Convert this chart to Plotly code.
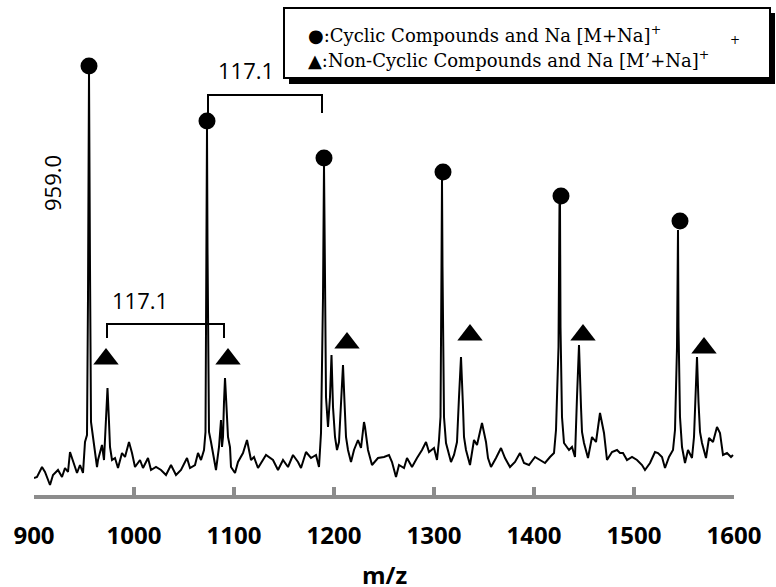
import plotly.graph_objects as go

# ---- spectrum data (m/z, relative intensity) ----
mz = [900, 903, 908, 911, 916, 919, 924, 928, 931, 934, 936, 939, 943, 946, 949, 951, 953, 954, 955, 956, 957, 959,
      963, 964, 968, 970, 971, 972, 973.5, 975, 976, 978, 981, 984, 988, 991, 995, 998, 1001, 1006, 1009, 1014,
      1017, 1022, 1027, 1032, 1037, 1042, 1047, 1053, 1056, 1061, 1064, 1067, 1070, 1071.5, 1072.5, 1073, 1073.5, 1075, 1077,
      1081, 1082, 1085, 1087, 1088, 1089, 1090, 1091, 1092, 1094, 1096, 1097, 1101, 1104, 1109, 1113, 1117, 1120,
      1124, 1131, 1132, 1139, 1144, 1149, 1154, 1159, 1164, 1167, 1172, 1177, 1182, 1185, 1187, 1189, 1190, 1191,
      1192, 1194, 1196, 1197.5, 1199, 1201, 1203, 1205, 1207, 1209, 1210.5, 1212, 1214, 1217, 1220, 1224, 1227,
      1230, 1231, 1234, 1238, 1244, 1250, 1255, 1258, 1262, 1265, 1270, 1273, 1278, 1283, 1288, 1292, 1295, 1300,
      1303, 1305, 1306.5, 1307.5, 1308, 1308.5, 1310, 1312, 1317, 1320, 1323, 1325, 1327, 1329, 1330, 1332, 1336, 1340,
      1343, 1348, 1352, 1354, 1357, 1362, 1367, 1371, 1376, 1381, 1386, 1390, 1395, 1401, 1406, 1411, 1416, 1420,
      1422, 1424.5, 1425.5, 1426, 1426.5, 1428, 1430, 1435, 1438, 1441, 1443, 1445, 1447, 1448, 1450, 1454, 1458, 1462, 1466,
      1470, 1473, 1478, 1483, 1486, 1489, 1493, 1498, 1503, 1508, 1511, 1516, 1521, 1524, 1528, 1531, 1535, 1539,
      1541, 1543, 1544, 1544.5, 1546, 1548, 1551, 1554, 1558, 1560, 1561.5, 1563, 1564.5, 1566, 1568, 1572, 1575,
      1579, 1583, 1586, 1589, 1593, 1597, 1599]
intensity = [19, 20, 30, 25, 12, 22, 27, 20, 29, 25, 45, 35, 24, 32, 24, 55, 62, 200, 425, 230, 75, 60,
             30, 37, 52, 37, 55, 85, 109, 75, 50, 37, 39, 29, 44, 40, 55, 44, 30, 37, 29, 39,
             27, 30, 27, 22, 32, 22, 27, 39, 29, 32, 44, 37, 47, 65, 250, 369, 250, 65, 55,
             32, 27, 50, 77, 50, 60, 95, 119, 100, 60, 50, 30, 24, 35, 44, 57, 37, 40,
             29, 40, 42, 37, 27, 37, 30, 42, 35, 29, 45, 39, 42, 30, 64, 200, 332, 220,
             100, 70, 100, 142, 90, 60, 47, 55, 100, 132, 95, 60, 47, 35, 47, 57, 49,
             75, 70, 47, 32, 39, 40, 42, 35, 20, 32, 29, 39, 30, 39, 47, 55, 45, 49,
             37, 57, 80, 230, 317, 230, 80, 54, 35, 42, 55, 100, 140, 90, 60, 47, 32, 57,
             52, 74, 55, 39, 30, 39, 49, 39, 30, 35, 44, 34, 32, 40, 37, 34, 40, 44,
             67, 150, 292, 292, 170, 80, 54, 47, 50, 40, 100, 152, 90, 65, 54, 39, 60, 55, 84,
             64, 37, 45, 47, 44, 44, 37, 40, 37, 32, 27, 34, 45, 44, 40, 29, 40, 47,
             67, 150, 267, 170, 80, 50, 34, 47, 39, 60, 100, 140, 95, 65, 54, 39, 59,
             55, 70, 64, 42, 44, 40, 42]

# ---- peak markers ----
cyclic_mz = [955, 1073, 1190, 1309, 1427, 1546]
cyclic_y = [431, 376, 339, 325, 301, 276]
noncyclic_mz = [972, 1094, 1213, 1336, 1449, 1570]
noncyclic_y = [138, 138, 154, 162, 162, 149]

# ---- brackets (x1, x2, y_top, y_bottom) ----
brackets = [(1074, 1188, 402, 384), (973, 1090, 173, 159)]
bracket_labels = ["117.1", "117.1"]
bracket_label_pos = [(1112, 427), (1006, 197)]
peak_label = "959.0"
peak_label_pos = (918, 314)

tick_vals = [900, 1000, 1100, 1200, 1300, 1400, 1500, 1600]
tick_text = [str(v) for v in tick_vals]

legend_lines = ["●:Cyclic Compounds and Na [M+Na]<sup>+</sup>",
                "▲:Non-Cyclic Compounds and Na [M’+Na]<sup>+</sup>"]

fig = go.Figure()
fig.add_trace(go.Scatter(x=mz, y=intensity, mode="lines",
                         line=dict(color="black", width=2), hoverinfo="skip", showlegend=False))
fig.add_trace(go.Scatter(x=cyclic_mz, y=cyclic_y, mode="markers",
                         marker=dict(symbol="circle", size=17, color="black"), showlegend=False))
fig.add_trace(go.Scatter(x=noncyclic_mz, y=noncyclic_y, mode="markers",
                         marker=dict(symbol="triangle-up", size=22, color="black"), showlegend=False))

shapes = []
for (x1, x2, yt, yb) in brackets:
    shapes.append(dict(type="path", xref="x", yref="y",
                       path=f"M {x1},{yb} L {x1},{yt} L {x2},{yt} L {x2},{yb}",
                       line=dict(color="black", width=2)))

# legend box with shadow (paper coords)
W, L = 700.0, 34.0
H, B = 495.0, 495.0
def px(x):
    return (x - L) / W
def py(y):
    return (B - y) / H
shapes.append(dict(type="rect", xref="paper", yref="paper",
                   x0=px(289), x1=px(775), y0=py(84), y1=py(13),
                   fillcolor="black", line=dict(width=0), layer="above"))
shapes.append(dict(type="rect", xref="paper", yref="paper",
                   x0=px(284), x1=px(770), y0=py(78), y1=py(8),
                   fillcolor="white", line=dict(color="black", width=2), layer="above"))

annotations = []
for t, (x, y) in zip(bracket_labels, bracket_label_pos):
    annotations.append(dict(x=x, y=y, xref="x", yref="y", text=t, showarrow=False,
                            font=dict(family="Open Sans", size=22, color="black")))
annotations.append(dict(x=peak_label_pos[0], y=peak_label_pos[1], xref="x", yref="y", text=peak_label,
                        textangle=-90, showarrow=False,
                        font=dict(family="Open Sans", size=22, color="black")))
for i, t in enumerate(legend_lines):
    annotations.append(dict(x=px(306), y=py(34 + 25 * i), xref="paper", yref="paper", text=t,
                            xanchor="left", yanchor="middle", showarrow=False,
                            font=dict(family="DejaVu Serif", size=18, color="black")))
annotations.append(dict(x=px(735), y=py(40), xref="paper", yref="paper", text="+",
                        xanchor="center", yanchor="middle", showarrow=False,
                        font=dict(family="DejaVu Serif", size=12, color="black")))
annotations.append(dict(x=px(384), y=py(574), xref="paper", yref="paper", text="<b>m/z</b>",
                        xanchor="center", yanchor="middle", showarrow=False,
                        font=dict(family="Open Sans", size=24, color="black")))

fig.update_layout(
    width=776, height=587,
    margin=dict(l=34, r=42, t=0, b=92, autoexpand=False),
    paper_bgcolor="white", plot_bgcolor="white",
    shapes=shapes, annotations=annotations,
    xaxis=dict(range=[900, 1600], tickvals=tick_vals, ticktext=tick_text, automargin=False,
               showgrid=False, zeroline=False, showline=True, linecolor="#8c8c8c", linewidth=4,
               ticks="inside", ticklen=8, tickwidth=4, tickcolor="#8c8c8c",
               ticklabelstandoff=16,
               tickfont=dict(family="Open Sans", size=24, color="black", weight="bold")),
    yaxis=dict(range=[2, 497], visible=False, showgrid=False, zeroline=False, automargin=False),
)

fig.write_html("out.html", config={"displayModeBar": False},
               post_script="document.body.style.margin='0';document.body.style.overflow='hidden';")
